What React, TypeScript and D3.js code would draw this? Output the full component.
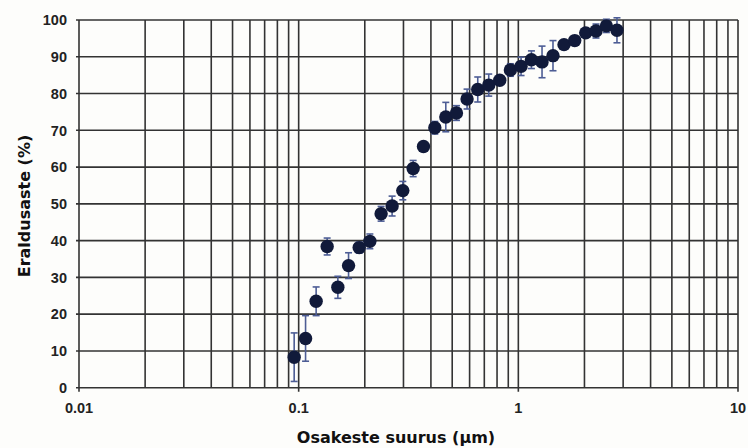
import React, { useEffect, useRef } from 'react';
import * as d3 from 'd3';

// particle size (µm), separation efficiency (%), error (± %)
const sizes = [
  0.0954, 0.1075, 0.1201, 0.1348, 0.1508, 0.1687, 0.1886, 0.2109, 0.2373, 0.2663,
  0.2979, 0.332, 0.37, 0.4167, 0.4675, 0.5228, 0.5843, 0.6535, 0.7333, 0.823,
  0.92, 1.029, 1.147, 1.282, 1.438, 1.614, 1.806, 2.026, 2.257, 2.517, 2.812,
];
const efficiency = [
  8.3, 13.4, 23.5, 38.4, 27.3, 33.2, 38.1, 39.8, 47.3, 49.4,
  53.6, 59.6, 65.6, 70.7, 73.6, 74.7, 78.5, 81.1, 82.3, 83.6,
  86.4, 87.4, 89.2, 88.6, 90.3, 93.3, 94.4, 96.5, 97.0, 98.4, 97.2,
];
const errors = [
  6.6, 6.2, 3.9, 2.3, 3.0, 3.5, 1.5, 2.0, 2.0, 2.7,
  2.5, 2.2, 1.0, 1.7, 4.0, 2.0, 2.7, 3.4, 3.0, 1.0,
  1.7, 2.5, 2.4, 4.3, 4.1, 1.0, 1.0, 1.0, 1.9, 1.8, 3.4,
];

const yTicks = [0, 10, 20, 30, 40, 50, 60, 70, 80, 90, 100];
const xTicks = [0.01, 0.1, 1, 10];

const WIDTH = 748;
const HEIGHT = 448;

export default function App() {
  const svgRef = useRef<SVGSVGElement>(null);

  useEffect(() => {
    if (!svgRef.current) return;
    const svg = d3.select(svgRef.current);
    svg.selectAll('*').remove();

    const x = d3.scaleLog().domain([0.01, 10]).range([79, 738]);
    const y = d3.scaleLinear().domain([0, 100]).range([387.7, 20]);

    svg.append('rect')
      .attr('width', WIDTH)
      .attr('height', HEIGHT)
      .attr('fill', '#fdfdfb');

    const grid = svg.append('g')
      .attr('stroke', '#333')
      .attr('stroke-width', 1.6);

    // horizontal grid lines
    grid.selectAll('.hline')
      .data(yTicks)
      .enter()
      .append('line')
      .attr('x1', x(0.01) - 3)
      .attr('x2', x(10))
      .attr('y1', d => y(d))
      .attr('y2', d => y(d));

    // vertical log grid lines (1..9 per decade)
    const minor: number[] = [];
    [0.01, 0.1, 1].forEach(dec => {
      for (let i = 1; i <= 9; i++) minor.push(dec * i);
    });
    minor.push(10);
    grid.selectAll('.vline')
      .data(minor)
      .enter()
      .append('line')
      .attr('x1', d => x(d))
      .attr('x2', d => x(d))
      .attr('y1', y(100))
      .attr('y2', d => (xTicks.includes(+d.toPrecision(3)) ? y(0) + 4 : y(0)));

    // y tick labels
    svg.append('g')
      .selectAll('text')
      .data(yTicks)
      .enter()
      .append('text')
      .attr('x', 67)
      .attr('y', d => y(d))
      .attr('dy', '0.36em')
      .attr('text-anchor', 'end')
      .attr('font-family', 'Liberation Sans, Arial, sans-serif')
      .attr('font-weight', 'bold')
      .attr('font-size', 14.5)
      .attr('fill', '#222')
      .text(d => d);

    // x tick labels
    svg.append('g')
      .selectAll('text')
      .data(xTicks)
      .enter()
      .append('text')
      .attr('x', d => x(d))
      .attr('y', 413)
      .attr('text-anchor', 'middle')
      .attr('font-family', 'Liberation Sans, Arial, sans-serif')
      .attr('font-weight', 'bold')
      .attr('font-size', 14.5)
      .attr('fill', '#222')
      .text(d => String(d));

    // axis titles
    svg.append('text')
      .attr('x', 396)
      .attr('y', 443)
      .attr('text-anchor', 'middle')
      .attr('font-family', 'DejaVu Sans, sans-serif')
      .attr('font-weight', 'bold')
      .attr('font-size', 16)
      .attr('fill', '#111')
      .text('Osakeste suurus (µm)');

    svg.append('text')
      .attr('transform', `translate(24,206) rotate(-90)`)
      .attr('text-anchor', 'middle')
      .attr('dy', '0.35em')
      .attr('font-family', 'DejaVu Sans, sans-serif')
      .attr('font-weight', 'bold')
      .attr('font-size', 16)
      .attr('fill', '#111')
      .text('Eraldusaste (%)');

    // error bars
    const bars = svg.append('g')
      .attr('stroke', '#4d5d95')
      .attr('stroke-width', 1.6)
      .selectAll('g')
      .data(sizes.map((s, i) => ({ s, v: efficiency[i], e: errors[i] })))
      .enter()
      .append('g');

    bars.append('line')
      .attr('x1', d => x(d.s))
      .attr('x2', d => x(d.s))
      .attr('y1', d => y(d.v + d.e))
      .attr('y2', d => y(d.v - d.e));
    bars.append('line')
      .attr('x1', d => x(d.s) - 3.5)
      .attr('x2', d => x(d.s) + 3.5)
      .attr('y1', d => y(d.v + d.e))
      .attr('y2', d => y(d.v + d.e));
    bars.append('line')
      .attr('x1', d => x(d.s) - 3.5)
      .attr('x2', d => x(d.s) + 3.5)
      .attr('y1', d => y(d.v - d.e))
      .attr('y2', d => y(d.v - d.e));

    // markers
    svg.append('g')
      .selectAll('circle')
      .data(sizes)
      .enter()
      .append('circle')
      .attr('cx', d => x(d))
      .attr('cy', (d, i) => y(efficiency[i]))
      .attr('r', 6.7)
      .attr('fill', '#111a3a');
  }, []);

  return (
    <div style={{ position: 'fixed', top: 0, left: 0 }}>
      <svg ref={svgRef} width={WIDTH} height={HEIGHT} style={{ display: 'block' }} />
    </div>
  );
}
